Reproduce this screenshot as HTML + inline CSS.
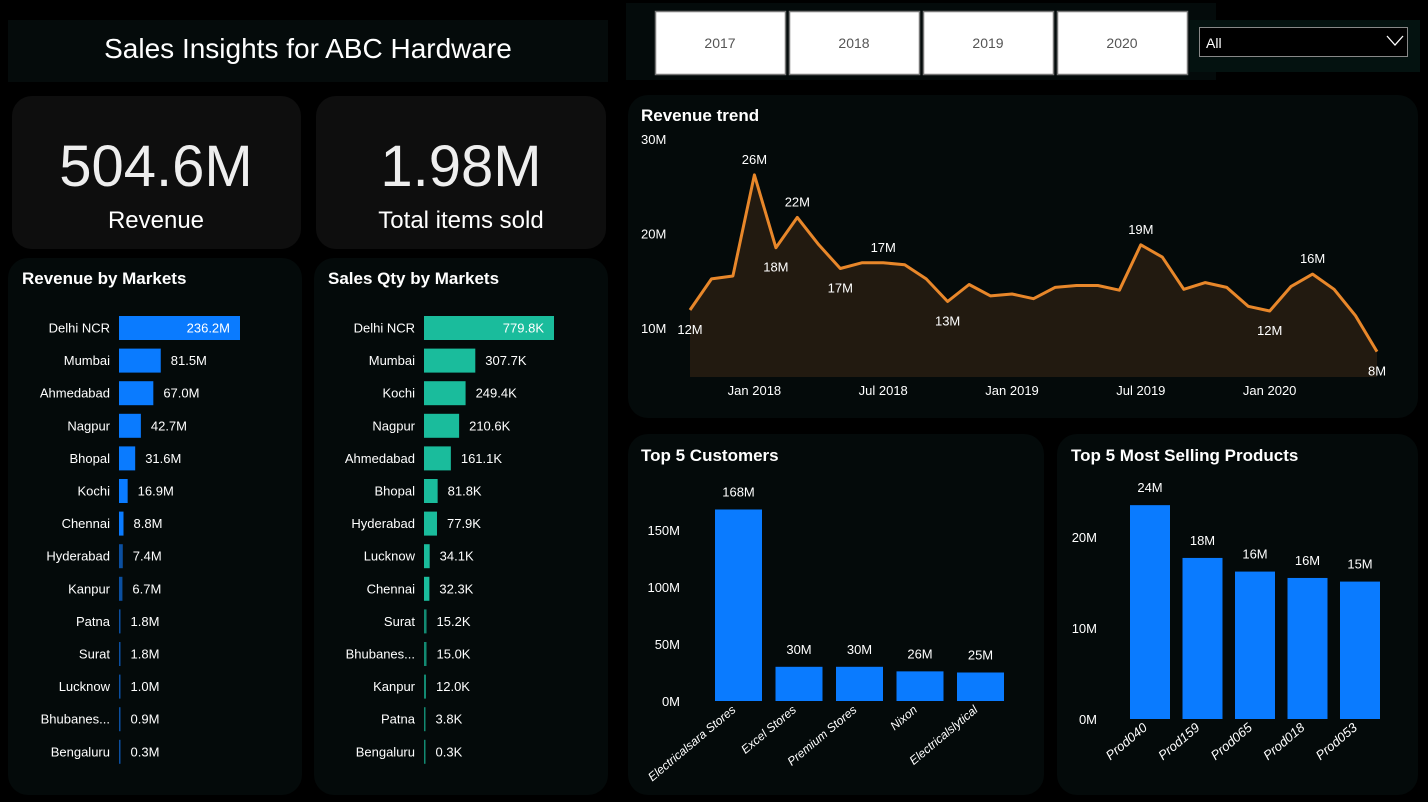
<!DOCTYPE html>
<html><head><meta charset="utf-8"><style>
html,body{margin:0;padding:0;background:#000;width:1428px;height:802px;overflow:hidden}
svg{display:block;font-family:"Liberation Sans",sans-serif}
</style></head><body>
<svg id="s" width="1428" height="802" viewBox="0 0 1428 802">
<rect x="0" y="0" width="1428" height="802" fill="#000"/>
<g>
<rect x="8" y="20" width="600" height="62" fill="#050b0b"/>
<text x="308" y="58" font-size="28" fill="#fff" text-anchor="middle">Sales Insights for ABC Hardware</text>
</g>
<g>
<rect x="12" y="96" width="289" height="153" rx="20" fill="#0e0e0e"/>
<text x="156" y="186" font-size="58" fill="#eee" text-anchor="middle">504.6M</text>
<text x="156" y="228" font-size="24" fill="#fff" text-anchor="middle">Revenue</text>
</g>
<g>
<rect x="316" y="96" width="290" height="153" rx="20" fill="#0e0e0e"/>
<text x="461" y="186" font-size="58" fill="#eee" text-anchor="middle">1.98M</text>
<text x="461" y="228" font-size="24" fill="#fff" text-anchor="middle">Total items sold</text>
</g>
<rect x="626" y="3" width="590" height="77" fill="#040b0b"/>
<g id="years"></g>
<g>
<rect x="1190" y="20" width="230" height="52" fill="#041210"/>
<rect x="1199.5" y="27.5" width="208" height="29" fill="#000" stroke="#888" stroke-width="1"/>
<text x="1206" y="48" font-size="14" fill="#fff">All</text>
<path d="M1387 36 L1395 45 L1403 36" fill="none" stroke="#fff" stroke-width="1.3"/>
</g>
<rect x="8" y="258" width="294" height="537" rx="20" fill="#040a0a"/>
<text x="22" y="284" font-size="17" font-weight="bold" fill="#fff">Revenue by Markets</text>
<rect x="314" y="258" width="294" height="537" rx="20" fill="#040a0a"/>
<text x="328" y="284" font-size="17" font-weight="bold" fill="#fff">Sales Qty by Markets</text>
<g id="revbars"></g><g id="qtybars"></g>
<rect x="628" y="95" width="790" height="323" rx="20" fill="#040a0a"/>
<text x="641" y="121" font-size="17" font-weight="bold" fill="#fff">Revenue trend</text>
<g id="trend"></g>
<rect x="628" y="434" width="416" height="361" rx="20" fill="#040a0a"/>
<text x="641" y="461" font-size="17" font-weight="bold" fill="#fff">Top 5 Customers</text>
<g id="cust"></g>
<rect x="1057" y="434" width="361" height="361" rx="20" fill="#040a0a"/>
<text x="1071" y="461" font-size="17" font-weight="bold" fill="#fff">Top 5 Most Selling Products</text>
<g id="prod"></g>
</svg>
<script>
const years=["2017","2018","2019","2020"];
const revMarkets=["Delhi NCR","Mumbai","Ahmedabad","Nagpur","Bhopal","Kochi","Chennai","Hyderabad","Kanpur","Patna","Surat","Lucknow","Bhubanes...","Bengaluru"];
const revValues=[236.2,81.5,67.0,42.7,31.6,16.9,8.8,7.4,6.7,1.8,1.8,1.0,0.9,0.3];
const qtyMarkets=["Delhi NCR","Mumbai","Kochi","Nagpur","Ahmedabad","Bhopal","Hyderabad","Lucknow","Chennai","Surat","Bhubanes...","Kanpur","Patna","Bengaluru"];
const qtyValues=[779.8,307.7,249.4,210.6,161.1,81.8,77.9,34.1,32.3,15.2,15.0,12.0,3.8,0.3];
const trendValues=[11.9,15.2,15.5,26.2,18.5,21.7,18.8,16.3,16.9,16.9,16.7,15.2,12.8,14.6,13.4,13.6,13.1,14.3,14.5,14.5,14.0,18.8,17.5,14.1,14.8,14.3,12.3,11.8,14.4,15.7,14.1,11.3,7.5];
const trendLabels={0:"12M",3:"26M",4:"18M",5:"22M",7:"17M",9:"17M",12:"13M",21:"19M",27:"12M",29:"16M",32:"8M"};
const trendLabelBelow=[0,4,7,12,27,32];
const trendTicks=["30M","20M","10M"];
const trendTickVals=[30,20,10];
const trendXLabels=["Jan 2018","Jul 2018","Jan 2019","Jul 2019","Jan 2020"];
const trendXIdx=[3,9,15,21,27];
const customers=["Electricalsara Stores","Excel Stores","Premium Stores","Nixon","Electricalslytical"];
const custValues=[168,30,30,26,25];
const custTicks=[0,50,100,150];
const products=["Prod040","Prod159","Prod065","Prod018","Prod053"];
const prodValues=[23.5,17.7,16.2,15.5,15.1];
const prodTicks=[0,10,20];

const NS="http://www.w3.org/2000/svg";
function mk(p,tag,at,txt){const e=document.createElementNS(NS,tag);for(const k in at)e.setAttribute(k,at[k]);if(txt!=null)e.textContent=txt;p.appendChild(e);return e;}

const yg=document.getElementById('years');
years.forEach((y,i)=>{const x=655+i*134;
 const g=mk(yg,'g',{});
 
 
 mk(g,'rect',{x:x+0.5,y:11.5,width:130,height:63,fill:'#fff',stroke:'#777','stroke-width':1.5});
 mk(g,'text',{x:x+65,y:48,'font-size':14,fill:'#555','text-anchor':'middle'},y);
});

function hbars(id,names,vals,x0,scale,color,dark,fmt){
 const g=document.getElementById(id);
 names.forEach((n,i)=>{const cy=328+i*32.6;const w=Math.max(1.5,vals[i]*scale);
  const t=mk(g,'text',{x:x0-9,y:cy+4.5,'font-size':13,fill:'#fff','text-anchor':'end'},n);
  
  
  const r=mk(g,'rect',{x:x0,y:cy-12,width:w,height:24,fill:w<4?dark:color});
  
  
  const inside=i===0;
  const v=mk(g,'text',{x:inside?x0+w-10:x0+w+10,y:cy+4.5,'font-size':13,fill:'#fff','text-anchor':inside?'end':'start'},fmt(vals[i]));
  
  
 });
}
hbars('revbars',revMarkets,revValues,119,121/236.2,'#0a7bff','#0b4fa0',v=>v.toFixed(1)+'M');
hbars('qtybars',qtyMarkets,qtyValues,424,130/779.8,'#1abc9c','#128a72',v=>v.toFixed(1)+'K');

const tg=document.getElementById('trend');
const tx=i=>690+i*(687/(trendValues.length-1));
const ty=v=>328-(v-10)*9.45;
trendTicks.forEach((t,i)=>{const e=mk(tg,'text',{x:641,y:ty(trendTickVals[i])+5,'font-size':13,fill:'#fff'},t);
 });
trendXLabels.forEach((t,i)=>{const e=mk(tg,'text',{x:tx(trendXIdx[i]),y:395,'font-size':13,fill:'#fff','text-anchor':'middle'},t);
 });
let pts=trendValues.map((v,i)=>tx(i).toFixed(1)+','+ty(v).toFixed(1));
const area=mk(tg,'polygon',{points:tx(0)+',377 '+pts.join(' ')+' '+tx(trendValues.length-1)+',377',fill:'#221a10'});

const line=mk(tg,'polyline',{points:pts.join(' '),fill:'none',stroke:'#e8872a','stroke-width':3,'stroke-linejoin':'round'});

for(const k in trendLabels){const i=+k;const below=trendLabelBelow.includes(i);
 const e=mk(tg,'text',{x:tx(i),y:below?ty(trendValues[i])+24:ty(trendValues[i])-11,'font-size':13,fill:'#fff','text-anchor':'middle'},trendLabels[k]);
 }

function vbars(id,names,vals,ticks,base,scale,x0,step,bw,tickX,fmtTick,lfs){
 const g=document.getElementById(id);
 ticks.forEach(t=>{const e=mk(g,'text',{x:tickX,y:base-scale*t+5,'font-size':13,fill:'#fff','text-anchor':'end'},fmtTick(t));
  });
 names.forEach((n,i)=>{const x=x0+i*step;const h=vals[i]*scale;
  const r=mk(g,'rect',{x:x,y:base-h,width:bw,height:h,fill:'#0a7bff'});
  
  
  const v=mk(g,'text',{x:x+bw/2,y:base-h-13,'font-size':13,fill:'#fff','text-anchor':'middle'},Math.round(vals[i])+'M');
  
  const lx=x+bw/2-2,ly=base+10;
  const l=mk(g,'text',{x:lx,y:ly,'font-size':lfs,fill:'#fff','font-style':'italic','text-anchor':'end',transform:'rotate(-40 '+lx+' '+ly+')'},n);
  
 });
}
vbars('cust',customers,custValues,custTicks,701,57/50,715,60.5,47,680,t=>t+'M',12);
vbars('prod',products,prodValues,prodTicks,719,9.1,1130,52.5,40,1097,t=>t+'M',13);
</script>
</body></html>
